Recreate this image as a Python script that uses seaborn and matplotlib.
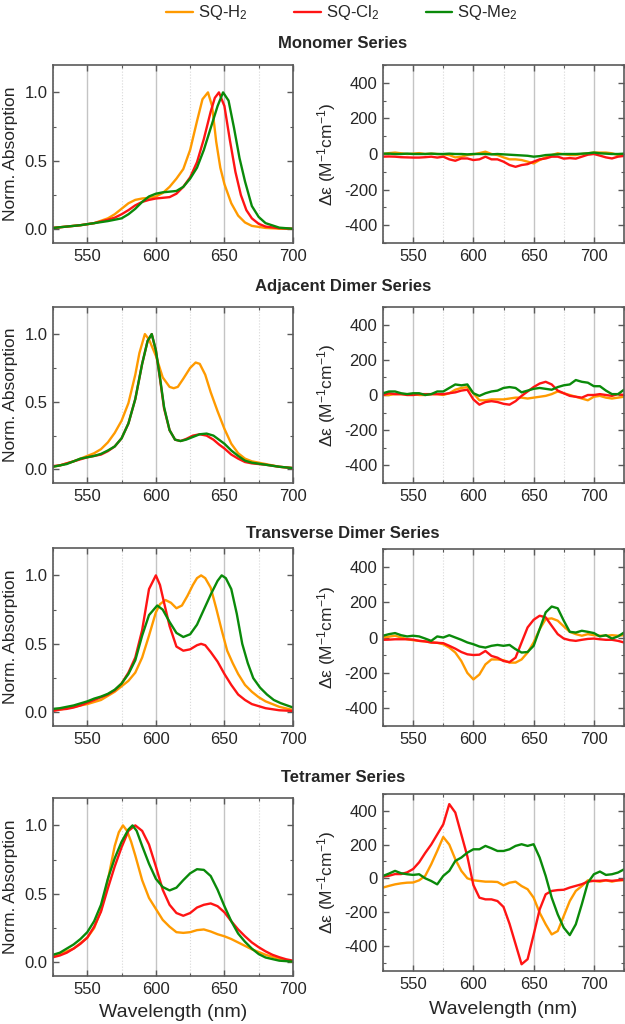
import matplotlib
matplotlib.use("Agg")
import pandas as pd
import matplotlib.pyplot as plt
import seaborn as sns
from matplotlib.ticker import MultipleLocator, FormatStrFormatter
from matplotlib.lines import Line2D

# ---- data ----
series_names = ["SQ-H2", "SQ-Cl2", "SQ-Me2"]
series_labels = ["SQ-H$_2$", "SQ-Cl$_2$", "SQ-Me$_2$"]
series_colors = ["#FF9A00", "#FF1414", "#0A8A0A"]
panel_titles = ["Monomer Series", "Adjacent Dimer Series", "Transverse Dimer Series", "Tetramer Series"]

# CD spectra share one wavelength grid
cd_wl = list(range(525, 730, 5))

# Monomer
mono_h2_wl = [525, 535, 545, 555, 565, 570, 575, 580, 585, 590, 595, 600, 605, 610, 615, 620, 625, 630, 634, 638,
              641, 644, 647, 650, 655, 660, 665, 670, 680, 690, 700]
mono_h2 = [0.01, 0.02, 0.03, 0.045, 0.08, 0.11, 0.15, 0.19, 0.215, 0.225, 0.23, 0.24, 0.265, 0.31, 0.37, 0.44, 0.58,
           0.79, 0.95, 1.0, 0.9, 0.64, 0.45, 0.33, 0.19, 0.10, 0.05, 0.025, 0.01, 0.005, 0.003]
mono_cl2_wl = [525, 535, 545, 555, 565, 570, 575, 580, 585, 590, 595, 600, 605, 610, 615, 620, 625, 630, 635, 640,
               643, 646, 650, 654, 658, 662, 666, 670, 675, 680, 690, 700]
mono_cl2 = [0.01, 0.02, 0.03, 0.045, 0.07, 0.085, 0.11, 0.14, 0.175, 0.2, 0.215, 0.225, 0.23, 0.235, 0.26, 0.31, 0.38,
            0.49, 0.66, 0.86, 0.96, 1.0, 0.9, 0.65, 0.42, 0.25, 0.14, 0.08, 0.04, 0.02, 0.008, 0.004]
mono_me2_wl = [525, 535, 545, 555, 565, 570, 575, 580, 585, 590, 595, 600, 605, 610, 615, 620, 625, 630, 635, 640,
               645, 649, 653, 657, 661, 665, 670, 675, 680, 690, 700]
mono_me2 = [0.01, 0.02, 0.03, 0.045, 0.06, 0.07, 0.08, 0.11, 0.15, 0.2, 0.24, 0.26, 0.27, 0.275, 0.28, 0.31, 0.37,
            0.45, 0.58, 0.74, 0.9, 1.0, 0.94, 0.74, 0.52, 0.35, 0.17, 0.09, 0.045, 0.012, 0.004]
mono_cd_h2 = [0, 5, 8, 4, 0, 2, 5, 0, 2, 0, -2, -6, -19, -15, -6, -2, 5, 13, 0, -6,
              -19, -30, -30, -34, -43, -53, -34, -19, -6, 4, -2, -6, -6, 0, 4, 8, 8, 8, 4, -6, -6]
mono_cd_cl2 = [-15, -14, -15, -18, -19, -20, -20, -18, -15, -20, -15, -30, -38, -25, -25, -34, -30, -15, -30, -30,
               -43, -62, -72, -62, -57, -43, -30, -25, -15, -15, -26, -23, -26, -15, -4, 0, -9, -19, -25, -15, -11]
mono_cd_me2 = [2, 2, 0, 0, 2, 0, 0, 0, 2, 0, 0, 2, 0, 0, -2, 0, 0, 0, -2, 0,
               -2, -4, -6, -8, -10, -15, -12, -6, -4, -2, 0, 0, 0, 2, 4, 8, 4, 2, 0, 0, 2]

# Adjacent dimer
adj_h2_wl = [525, 530, 535, 540, 545, 550, 555, 560, 565, 570, 575, 580, 585, 588, 592, 595, 600, 605, 610, 613,
             616, 620, 625, 629, 632, 636, 640, 645, 650, 655, 660, 665, 670, 680, 690, 700]
adj_h2 = [0.02, 0.03, 0.045, 0.06, 0.08, 0.1, 0.12, 0.15, 0.2, 0.27, 0.36, 0.49, 0.7, 0.86, 1.0, 0.96, 0.84, 0.68,
          0.61, 0.6, 0.61, 0.67, 0.75, 0.79, 0.78, 0.70, 0.57, 0.43, 0.3, 0.19, 0.12, 0.08, 0.06, 0.04, 0.02, 0.01]
adj_me2_wl = [525, 530, 535, 540, 545, 550, 555, 560, 565, 570, 575, 580, 585, 590, 594, 597, 600, 603, 606, 610,
              614, 618, 622, 627, 632, 637, 642, 646, 650, 655, 660, 665, 670, 680, 690, 700]
adj_me2 = [0.02, 0.03, 0.04, 0.06, 0.08, 0.09, 0.1, 0.115, 0.14, 0.17, 0.23, 0.34, 0.52, 0.78, 0.95, 1.0, 0.88, 0.68,
           0.46, 0.29, 0.22, 0.21, 0.22, 0.24, 0.26, 0.265, 0.25, 0.22, 0.19, 0.14, 0.1, 0.065, 0.05, 0.035, 0.02, 0.01]
adj_cl2_wl = adj_me2_wl
adj_cl2 = [0.025, 0.03, 0.045, 0.06, 0.075, 0.09, 0.1, 0.11, 0.135, 0.17, 0.23, 0.34, 0.52, 0.78, 0.95, 1.0, 0.88,
           0.67, 0.45, 0.29, 0.22, 0.21, 0.225, 0.25, 0.26, 0.25, 0.22, 0.185, 0.155, 0.11, 0.08, 0.055, 0.045, 0.035,
           0.02, 0.01]
adj_cd_h2 = [0, 0, 5, 5, 5, 5, 0, 0, 5, 5, 0, 10, 30, 40, 45, 10, -30, -30, -25, -25,
             -25, -20, -15, -15, -20, -15, -10, -5, 5, 20, 10, 0, -10, -20, -30, -10, -5, -15, -20, -15, -10]
adj_cd_cl2 = [0, 10, 5, 5, 0, 0, 5, 5, 5, 5, 5, 10, 15, 25, 30, -25, -55, -40, -35, -40,
              -50, -55, -35, -5, 20, 45, 65, 75, 60, 25, 10, -5, -10, -15, 0, 0, 5, 0, -5, 5, 0]
adj_cd_me2 = [10, 20, 20, 10, 5, 10, 10, 0, 5, 20, 20, 40, 60, 55, 60, 10, -5, 10, 20, 25,
              40, 45, 40, 15, 25, 35, 40, 35, 30, 45, 55, 60, 85, 75, 70, 50, 50, 25, 5, 5, 30]

# Transverse dimer
trans_h2_wl = [525, 530, 535, 540, 545, 550, 555, 560, 565, 570, 575, 580, 585, 590, 595, 600, 603, 607, 611, 615,
               619, 623, 627, 630, 633, 636, 640, 644, 648, 652, 656, 660, 665, 670, 675, 680, 690, 700]
trans_h2 = [0.015, 0.02, 0.03, 0.04, 0.05, 0.06, 0.075, 0.09, 0.12, 0.15, 0.19, 0.23, 0.29, 0.4, 0.56, 0.73, 0.79,
            0.82, 0.8, 0.76, 0.78, 0.85, 0.93, 0.98, 1.0, 0.98, 0.91, 0.76, 0.6, 0.45, 0.36, 0.28, 0.2, 0.15, 0.11,
            0.08, 0.04, 0.017]
trans_cl2_wl = [525, 530, 535, 540, 545, 550, 555, 560, 565, 570, 575, 580, 585, 590, 595, 600, 603, 606, 610, 615,
                620, 625, 630, 633, 636, 640, 645, 650, 655, 660, 665, 670, 675, 680, 690, 700]
trans_cl2 = [0.01, 0.02, 0.025, 0.035, 0.05, 0.07, 0.09, 0.11, 0.13, 0.16, 0.21, 0.29, 0.40, 0.6, 0.9, 1.0, 0.93, 0.8,
             0.63, 0.48, 0.45, 0.46, 0.49, 0.5, 0.49, 0.44, 0.37, 0.28, 0.2, 0.13, 0.09, 0.06, 0.045, 0.03, 0.015,
             0.01]
trans_me2_wl = [525, 530, 535, 540, 545, 550, 555, 560, 565, 570, 575, 580, 585, 590, 595, 601, 605, 610, 615, 620,
                625, 630, 635, 640, 645, 648, 651, 655, 659, 663, 667, 671, 676, 681, 686, 691, 700]
trans_me2 = [0.025, 0.03, 0.04, 0.05, 0.065, 0.08, 0.1, 0.115, 0.135, 0.165, 0.21, 0.28, 0.38, 0.56, 0.71, 0.78, 0.75,
             0.66, 0.58, 0.55, 0.57, 0.64, 0.75, 0.86, 0.96, 1.0, 0.98, 0.9, 0.72, 0.5, 0.36, 0.25, 0.18, 0.13, 0.09,
             0.067, 0.035]
trans_cd_h2 = [0, 5, 10, 0, -10, -15, -19, -22, -28, -30, -38, -57, -85, -133, -200, -237, -209, -152, -124, -124,
               -128, -142, -142, -124, -85, -28, 47, 104, 108, 95, 63, 32, 19, 10, 19, 13, 10, 10, 13, 10, 13]
trans_cd_cl2 = [-13, -12, -10, -10, -10, -12, -19, -22, -28, -30, -32, -47, -63, -82, -95, -99, -97, -76, -104, -114,
                -133, -139, -114, -28, 57, 100, 123, 114, 66, 19, -6, -15, -19, -13, -8, -6, -10, -13, -13, -19, -28]
trans_cd_me2 = [10, 19, 25, 13, 6, 10, 6, -6, -19, 6, 0, 13, 0, -13, -28, -38, -51, -57, -47, -42,
                -47, -42, -66, -85, -82, -47, 47, 142, 175, 165, 95, 32, 28, 38, 32, 25, 6, 13, -6, 6, 28]

# Tetramer
tet_h2_wl = [525, 530, 535, 540, 545, 550, 555, 560, 565, 570, 573, 576, 579, 582, 585, 590, 595, 600, 605, 610,
             615, 620, 625, 630, 635, 640, 645, 650, 655, 660, 665, 670, 675, 680, 685, 690, 695, 700]
tet_h2 = [0.045, 0.06, 0.08, 0.1, 0.14, 0.18, 0.25, 0.38, 0.6, 0.85, 0.95, 1.0, 0.96, 0.88, 0.78, 0.6, 0.47, 0.39,
          0.31, 0.26, 0.22, 0.215, 0.22, 0.235, 0.24, 0.225, 0.205, 0.19, 0.17, 0.145, 0.12, 0.095, 0.075, 0.055,
          0.04, 0.025, 0.015, 0.005]
tet_cl2_wl = list(range(525, 705, 5))
tet_cl2 = [0.037, 0.05, 0.07, 0.1, 0.135, 0.18, 0.26, 0.37, 0.54, 0.7, 0.84, 0.96, 1.0, 0.96, 0.86, 0.7, 0.53, 0.42,
           0.36, 0.34, 0.36, 0.4, 0.42, 0.43, 0.41, 0.365, 0.3, 0.24, 0.19, 0.145, 0.11, 0.08, 0.055, 0.037, 0.022,
           0.012]
tet_me2_wl = [525, 530, 535, 540, 545, 550, 555, 560, 565, 570, 575, 580, 583, 586, 590, 595, 600, 605, 610, 615,
              620, 625, 630, 635, 640, 645, 650, 655, 660, 665, 670, 675, 680, 690, 700]
tet_me2 = [0.055, 0.07, 0.1, 0.13, 0.17, 0.22, 0.3, 0.42, 0.61, 0.76, 0.88, 0.97, 1.0, 0.96, 0.85, 0.72, 0.61, 0.55,
           0.525, 0.545, 0.6, 0.65, 0.68, 0.675, 0.63, 0.53, 0.41, 0.3, 0.21, 0.15, 0.1, 0.06, 0.035, 0.012, 0.005]
tet_cd_h2 = [-55, -45, -36, -30, -26, -25, -12, 14, 83, 162, 245, 200, 113, 44, 0, -12, -16, -20, -20, -22,
             -42, -26, -20, -46, -65, -115, -204, -273, -333, -313, -224, -135, -75, -46, -12, -16, -20, -12, -20,
             -12, -12]
tet_cd_cl2 = [10, 15, 25, 25, 35, 55, 95, 150, 200, 260, 320, 440, 390, 260, 130, -40, -115, -125, -125, -135,
              -170, -270, -390, -510, -480, -335, -185, -95, -75, -70, -68, -55, -45, -35, -20, -15, -15, -12, -15,
              -12, -8]
tet_cd_me2 = [14, 28, 44, 30, 24, 20, 24, 0, -16, -36, 14, 44, 103, 123, 152, 172, 172, 192, 178, 162,
              162, 172, 192, 202, 192, 202, 123, 14, -115, -214, -293, -337, -273, -154, -26, 24, 40, 20, 24, 34, 53]

# ---- figure ----
sns.set_style("ticks")
plt.rcParams["font.family"] = ["Liberation Sans", "DejaVu Sans"]
plt.rcParams["mathtext.fontset"] = "custom"
plt.rcParams["mathtext.rm"] = "Liberation Sans"
plt.rcParams["mathtext.it"] = "Liberation Sans:italic"
plt.rcParams["axes.unicode_minus"] = False

W, H = 625, 1024
fig = plt.figure(figsize=(W / 100, H / 100), dpi=100)


def px_axes(left, top, right, bottom):
    return fig.add_axes([left / W, 1 - bottom / H, (right - left) / W, (bottom - top) / H])


def long_df(curves):
    frames = [pd.DataFrame({"wl": wl, "val": vals, "series": name}) for name, wl, vals in curves]
    return pd.concat(frames, ignore_index=True)


def style_axes(ax, xmax, ymajor, yminor, yfmt):
    ax.set_xlim(525, xmax)
    ax.xaxis.set_major_locator(MultipleLocator(50))
    ax.xaxis.set_minor_locator(MultipleLocator(25))
    ax.yaxis.set_major_locator(MultipleLocator(ymajor))
    ax.yaxis.set_minor_locator(MultipleLocator(yminor))
    ax.yaxis.set_major_formatter(FormatStrFormatter(yfmt))
    ax.grid(axis="x", which="major", color="#c4c4c4", lw=1.0, ls="-")
    ax.grid(axis="x", which="minor", color="#d8d8d8", lw=0.8, ls=":")
    ax.set_axisbelow(True)
    for sp in ax.spines.values():
        sp.set_color("#5a5a5a")
        sp.set_linewidth(1.2)
    ax.tick_params(which="both", direction="in", top=True, right=True, color="#5a5a5a")
    ax.tick_params(which="major", length=4, width=1.0, labelsize=12, pad=4)
    ax.tick_params(which="minor", length=2.5, width=0.8)
    ax.set_xlabel("")
    ax.set_ylabel("")


abs_panels = [
    [("SQ-H2", mono_h2_wl, mono_h2), ("SQ-Cl2", mono_cl2_wl, mono_cl2), ("SQ-Me2", mono_me2_wl, mono_me2)],
    [("SQ-H2", adj_h2_wl, adj_h2), ("SQ-Cl2", adj_cl2_wl, adj_cl2), ("SQ-Me2", adj_me2_wl, adj_me2)],
    [("SQ-H2", trans_h2_wl, trans_h2), ("SQ-Cl2", trans_cl2_wl, trans_cl2), ("SQ-Me2", trans_me2_wl, trans_me2)],
    [("SQ-H2", tet_h2_wl, tet_h2), ("SQ-Cl2", tet_cl2_wl, tet_cl2), ("SQ-Me2", tet_me2_wl, tet_me2)],
]
cd_panels = [
    [("SQ-H2", cd_wl, mono_cd_h2), ("SQ-Cl2", cd_wl, mono_cd_cl2), ("SQ-Me2", cd_wl, mono_cd_me2)],
    [("SQ-H2", cd_wl, adj_cd_h2), ("SQ-Cl2", cd_wl, adj_cd_cl2), ("SQ-Me2", cd_wl, adj_cd_me2)],
    [("SQ-H2", cd_wl, trans_cd_h2), ("SQ-Cl2", cd_wl, trans_cd_cl2), ("SQ-Me2", cd_wl, trans_cd_me2)],
    [("SQ-H2", cd_wl, tet_cd_h2), ("SQ-Cl2", cd_wl, tet_cd_cl2), ("SQ-Me2", cd_wl, tet_cd_me2)],
]

# pixel boxes (left, top, right, bottom)
left_boxes = [(53, 65, 293, 243), (53, 307, 293, 483), (53, 548, 293, 726), (53, 798, 293, 976)]
right_boxes = [(383, 65, 624, 243), (383, 307, 624, 483), (383, 549, 624, 726), (383, 794, 624, 971)]
title_y = [43, 287, 533, 777]
palette = dict(zip(series_names, series_colors))

for i in range(4):
    ax = px_axes(*left_boxes[i])
    sns.lineplot(data=long_df(abs_panels[i]), x="wl", y="val", hue="series", hue_order=series_names,
                 palette=palette, estimator=None, lw=1.7, legend=False, ax=ax)
    style_axes(ax, 700, 0.5, 0.25, "%.1f")
    ax.set_ylim(-0.1, 1.2)
    ax.set_ylabel("Norm. Absorption", fontsize=12.5)
    ax.yaxis.set_label_coords(-0.145, 0.5)

    ax2 = px_axes(*right_boxes[i])
    sns.lineplot(data=long_df(cd_panels[i]), x="wl", y="val", hue="series", hue_order=series_names,
                 palette=palette, estimator=None, lw=1.7, legend=False, ax=ax2)
    style_axes(ax2, 725, 200, 100, "%d")
    ax2.set_ylim(-550 if i == 3 else -500, 500)
    ax2.set_ylabel("Δε (M$^{-1}$cm$^{-1}$)", fontsize=12.5)
    ax2.yaxis.set_label_coords(-0.185, 0.5)

    fig.text(343 / W, 1 - title_y[i] / H, panel_titles[i], ha="center", va="center",
             fontsize=12, fontweight="bold")

    if i == 3:
        ax.set_xlabel("Wavelength (nm)", fontsize=14)
        ax2.set_xlabel("Wavelength (nm)", fontsize=14)
        ax.xaxis.set_label_coords(0.5, -0.16)
        ax2.xaxis.set_label_coords(0.5, -0.17)

handles = [Line2D([0], [0], color=c, lw=1.7) for c in series_colors]
fig.legend(handles, series_labels, loc="center", bbox_to_anchor=(342 / W, 1 - 13 / H), ncol=3,
           frameon=False, fontsize=12, handlelength=1.6, handletextpad=0.3, columnspacing=2.8)

fig.savefig("out.png", dpi=100)
